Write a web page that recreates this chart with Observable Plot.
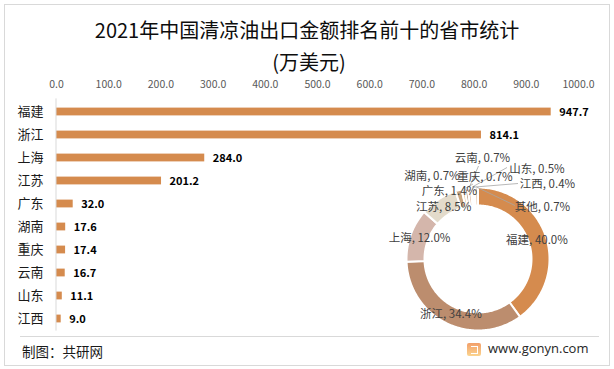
<!DOCTYPE html>
<html><head><meta charset="utf-8">
<script src="https://cdn.jsdelivr.net/npm/d3@7"></script>
<script src="https://cdn.jsdelivr.net/npm/@observablehq/plot@0.6"></script>
<style>
body{margin:0;background:#fff;}
#wrap{position:relative;width:614px;height:369px;font-family:"Noto Sans CJK SC","Noto Sans",sans-serif;overflow:hidden;background:#fff;}
#frame{position:absolute;left:4px;top:4px;width:604px;height:360px;border:1px solid #d9d9d9;}
.t{position:absolute;left:0;width:614px;text-align:center;font-size:20px;line-height:20px;color:#0d0d0d;white-space:nowrap;}
#bars,#donut{position:absolute;}
#bars{left:0;top:0;}
#donut{left:380px;top:140px;}
#sep{position:absolute;left:20px;top:336px;width:579px;height:1px;background:#d9d9d9;}
#foot{position:absolute;left:22px;top:343px;font-size:13.5px;line-height:17px;color:#1a1a1a;}
#url{position:absolute;left:488px;top:339px;font-family:"Open Sans",sans-serif;font-size:13px;line-height:18px;color:#262626;}
#logo{position:absolute;left:467px;top:343px;width:14px;height:13px;border-radius:2px;background:linear-gradient(180deg,#f29f6a,#fbd48f);}
#logo:after{content:"";position:absolute;left:4px;top:3px;width:6px;height:6px;border:1.5px solid #fff;border-left:none;border-bottom-width:1.5px;}
</style></head><body>
<div id="wrap">
 <div id="frame"></div>
 <div class="t" style="top:20px">2021年中国清凉油出口金额排名前十的省市统计</div>
 <div class="t" style="top:52px;left:2px">(万美元)</div>
 <div id="bars"></div>
 <div id="donut"></div>
 <div id="sep"></div>
 <div id="foot">制图：共研网</div>
 <div id="logo"></div><div id="url">www.gonyn.com</div>
</div>
<script>
// ---- data ----
const provinces = ["福建","浙江","上海","江苏","广东","湖南","重庆","云南","山东","江西"];
const values = [947.7, 814.1, 284.0, 201.2, 32.0, 17.6, 17.4, 16.7, 11.1, 9.0];
const xTicks = [0,100,200,300,400,500,600,700,800,900,1000];
const shareNames = ["福建","浙江","上海","江苏","广东","湖南","重庆","云南","山东","江西","其他"];
const sharePct = [40.0, 34.4, 12.0, 8.5, 1.4, 0.7, 0.7, 0.7, 0.5, 0.4, 0.7];

// ---- styles / layout ----
const barColor = "#D58B4E";
const sliceColors = ["#D58B4E","#BC8D6E","#D4B6AB","#E3DBCB","#C9A47E","#E6C7A0","#B8967F","#DDBCA3","#EBDAC2","#CC8F5C","#E7C6AA"];
const FONT = '"Noto Sans CJK SC","Noto Sans",sans-serif';
const fmt1 = d3.format(".1f");

// bar chart
const barData = provinces.map((p, i) => ({p, v: values[i]}));
const bar = Plot.plot({
  width: 614, height: 369,
  marginLeft: 56, marginRight: 36, marginTop: 98.4, marginBottom: 38.4,
  style: {fontFamily: FONT, background: "transparent", overflow: "visible"},
  x: {domain: [0, 1000], label: null},
  y: {domain: provinces, padding: 0, label: null},
  marks: [
    Plot.axisX({anchor: "top", ticks: xTicks, tickSize: 0, tickPadding: 11, tickFormat: fmt1, fontSize: 10.5, fill: "#595959", label: null}),
    Plot.axisY({tickSize: 0, tickPadding: 13, fontSize: 13, fill: "#1a1a1a", label: null}),
    Plot.barX(barData, {x: "v", y: "p", fill: barColor, insetTop: 7.6, insetBottom: 7.6}),
    Plot.ruleX([0], {stroke: "#d9d9d9", strokeWidth: 1, dx: -0.5}),
    Plot.text(barData, {x: "v", y: "p", text: d => fmt1(d.v), dx: 8, textAnchor: "start", fontWeight: "bold", fontSize: 11, fill: "#000"})
  ]
});
document.getElementById("bars").appendChild(bar);

// donut chart
const total = d3.sum(sharePct);
let acc = 0;
const slices = shareNames.map((n, i) => {
  const a0 = acc / total * 360; acc += sharePct[i];
  const a1 = acc / total * 360;
  return {n, pct: sharePct[i], a0, a1, mid: (a0 + a1) / 2};
});
const R0 = 53.5, R1 = 71.5, RL = 62;
const rad = a => a * Math.PI / 180;
const pts = slices.flatMap(s => {
  const steps = Math.max(2, Math.ceil(s.a1 - s.a0));
  const out = [], inn = [];
  for (let k = 0; k <= steps; k++) {
    const a = rad(s.a0 + (s.a1 - s.a0) * k / steps);
    out.push({n: s.n, x: R1 * Math.sin(a), y: R1 * Math.cos(a)});
    inn.push({n: s.n, x: R0 * Math.sin(a), y: R0 * Math.cos(a)});
  }
  return out.concat(inn.reverse());
});
// manual label placement (screen offsets from center) for the crowded small slices
const labelOffsets = {"广东": [-28.5, -68], "湖南": [-46, -82.5], "重庆": [7, -81.5], "云南": [4.5, -101], "山东": [59, -90], "江西": [69.5, -75], "其他": [64.5, -51.5]};
const leaderAnchors = {"重庆": [-5, -75], "云南": [0.5, -93], "山东": [29, -91.5], "江西": [40, -75.5], "其他": [37, -53.5]};
const labels = slices.map(s => {
  const o = labelOffsets[s.n];
  const x = o ? o[0] : RL * Math.sin(rad(s.mid));
  const y = o ? -o[1] : RL * Math.cos(rad(s.mid));
  return {x, y, text: `${s.n}, ${fmt1(s.pct)}%`};
});
const leaders = slices.filter(s => leaderAnchors[s.n]).map(s => ({
  x1: 72 * Math.sin(rad(s.mid)), y1: 72 * Math.cos(rad(s.mid)),
  x2: leaderAnchors[s.n][0], y2: -leaderAnchors[s.n][1]
}));
const donut = Plot.plot({
  width: 220, height: 200, margin: 0,
  style: {fontFamily: FONT, background: "transparent", overflow: "visible"},
  x: {domain: [-97.5, 122.5], axis: null},
  y: {domain: [-81.5, 118.5], axis: null},
  color: {domain: shareNames, range: sliceColors},
  marks: [
    Plot.line(pts, {x: "x", y: "y", z: "n", fill: "n", stroke: "#fff", strokeWidth: 2, curve: "linear-closed"}),
    Plot.link(leaders, {x1: "x1", y1: "y1", x2: "x2", y2: "y2", stroke: "#a6a6a6", strokeWidth: 0.8}),
    Plot.text(labels, {x: "x", y: "y", text: "text", fontSize: 11.5, fill: "#404040"})
  ]
});
document.getElementById("donut").appendChild(donut);
</script>
</body></html>
